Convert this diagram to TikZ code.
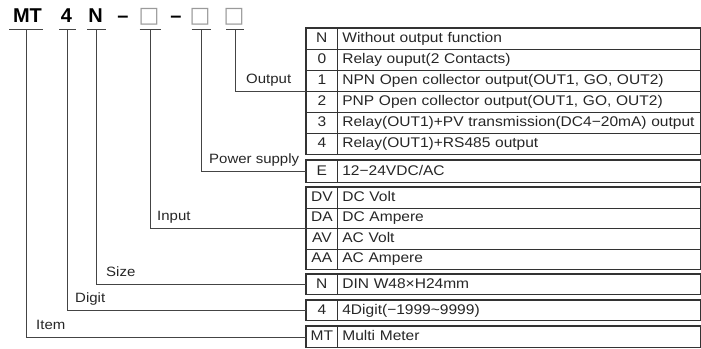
\documentclass[tikz,border=0pt]{standalone}
\usepackage{fontspec}
\setmainfont{Liberation Sans}
\newfontfamily\tabfont[FakeStretch=1.11]{Liberation Sans}
\newfontfamily\symfont{DejaVu Sans}
\definecolor{linec}{HTML}{333333}
\definecolor{leadc}{HTML}{444444}
\definecolor{txtc}{HTML}{262626}
\definecolor{sqc}{HTML}{9A9A9A}
\newcommand\tabrow[5]{%
  \node[codec, minimum height=#3pt] (#1c) at (306,#2) {#4};
  \node[descc, minimum height=#3pt] (#1d) at (337,#2) {\hspace*{3pt}#5};}
\begin{document}
\begin{tikzpicture}[x=1pt,y=-1pt,
  cell/.style={draw=linec, line width=0.7pt, inner ysep=0pt, anchor=north west,
    font=\tabfont\fontsize{14}{16}\selectfont, text=txtc, text height=10pt, text depth=2.5pt},
  codec/.style={cell, minimum width=31pt, inner xsep=0pt},
  descc/.style={cell, minimum width=363pt, text width=359pt, inner xsep=2pt, align=left},
  frame/.style={draw=linec, line width=1.3pt},
  leader/.style={draw=leadc, line width=0.7pt},
  lbl/.style={font=\tabfont\fontsize{13.5}{15}\selectfont, text=txtc, anchor=base west, inner sep=0pt},
  topl/.style={font=\bfseries\fontsize{20}{22}\selectfont, anchor=base, inner sep=0pt, text=black},
  sq/.style={font=\symfont\fontsize{22}{24}\selectfont, anchor=base, inner sep=0pt, text=sqc}]
\useasboundingbox (0,0) rectangle (701,348);

% top code
\node[topl] (tMT) at (27.5,22.5) {MT};
\node[topl] (t4) at (66.5,22.5) {4};
\node[topl] (tN) at (95.5,22.5) {N};
\node[topl] (tD1) at (123,22.5) {–};
\node[sq] (tS1) at (149,23) {□};
\node[topl] (tD2) at (176,22.5) {–};
\node[sq] (tS2) at (200,23) {□};
\node[sq] (tS3) at (234,23) {□};

\coordinate (sItem) at (26,29);
\coordinate (sDig) at (67.5,29);
\coordinate (sSize) at (96.5,29);
\coordinate (sIn) at (150,29);
\coordinate (sPow) at (201,29);
\coordinate (sOut) at (235,29);

\draw[leader] ([xshift=-17pt]sItem) -- ([xshift=17pt]sItem);
\draw[leader] ([xshift=-8.5pt]sDig) -- ([xshift=8.5pt]sDig);
\draw[leader] ([xshift=-9.5pt]sSize) -- ([xshift=9.5pt]sSize);
\draw[leader] ([xshift=-10.5pt]sIn) -- ([xshift=10.5pt]sIn);
\draw[leader] ([xshift=-9.5pt]sPow) -- ([xshift=9.5pt]sPow);
\draw[leader] ([xshift=-9pt]sOut) -- ([xshift=9pt]sOut);

% tables
\tabrow{o0}{28}{21}{N}{Without output function}
\tabrow{o1}{49}{21}{0}{Relay ouput(2 Contacts)}
\tabrow{o2}{70}{21}{1}{NPN Open collector output(OUT1, GO, OUT2)}
\tabrow{o3}{91}{21}{2}{PNP Open collector output(OUT1, GO, OUT2)}
\tabrow{o4}{112}{21}{3}{Relay(OUT1)+PV transmission(DC4−20mA) output}
\tabrow{o5}{133}{21}{4}{Relay(OUT1)+RS485 output}
\draw[frame] (o0c.north west) rectangle (o5d.south east);

\tabrow{e}{160}{22}{E}{12−24VDC/AC}
\draw[frame] (ec.north west) rectangle (ed.south east);

\tabrow{i0}{187}{20.5}{DV}{DC Volt}
\tabrow{i1}{207.5}{20.5}{DA}{DC Ampere}
\tabrow{i2}{228}{20.5}{AV}{AC Volt}
\tabrow{i3}{248.5}{20.5}{AA}{AC Ampere}
\draw[frame] (i0c.north west) rectangle (i3d.south east);

\tabrow{n}{274}{20}{N}{DIN W48×H24mm}
\draw[frame] (nc.north west) rectangle (nd.south east);

\tabrow{d}{300}{20}{4}{4Digit(−1999\textasciitilde 9999)}
\draw[frame] (dc.north west) rectangle (dd.south east);

\tabrow{m}{326}{21}{MT}{Multi Meter}
\draw[frame] (mc.north west) rectangle (md.south east);

% leaders
\draw[leader] (sOut) |- (o3c.north west);
\draw[leader] (sPow) |- (ec.west);
\draw[leader] (sIn) |- (i2c.north west);
\draw[leader] (sSize) |- (nc.west);
\draw[leader] (sDig) |- (dc.west);
\draw[leader] (sItem) |- (mc.west);

% labels
\node[lbl] (lOut) at (246,83.5) {Output};
\node[lbl] (lPow) at (209,163.5) {Power supply};
\node[lbl] (lIn) at (157,220.5) {Input};
\node[lbl] (lSize) at (106,276.5) {Size};
\node[lbl] (lDig) at (75,302.5) {Digit};
\node[lbl] (lItem) at (36,329) {Item};
\end{tikzpicture}
\end{document}
